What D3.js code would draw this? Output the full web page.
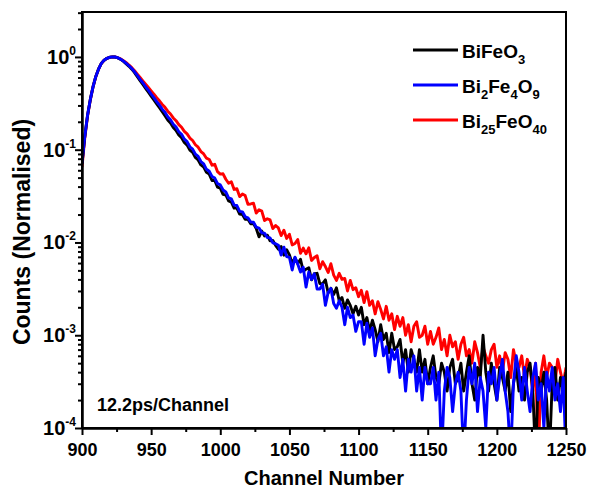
<!DOCTYPE html>
<html>
<head>
<meta charset="utf-8">
<script src="https://cdn.jsdelivr.net/npm/d3@7"></script>
<style>
  body { margin: 0; background: #fff; }
  svg text { font-family: "Liberation Sans", Arial, sans-serif; font-weight: bold; fill: #000; }
</style>
</head>
<body>
<svg id="chart"></svg>
<script>
const width = 590, height = 488;
const plotLeft = 82, plotRight = 566, plotTop = 12, plotBottom = 428;

// channel grid (every 2nd channel)
const channels = d3.range(900, 1251, 2);

// raw counts
const countsBiFeO3 = [
  1416, 2760, 4690, 6930, 9570, 12330, 14830, 17020, 18450, 19320, 19820, 20000, 19940, 19500, 18800,
  17900, 16850, 15850, 14750, 13560, 12240, 11110, 10080, 9150, 8320, 7560, 6860, 6250, 5680, 5150,
  4650, 4180, 3870, 3470, 3230, 2880, 2690, 2390, 2240, 1980, 1870, 1650, 1550, 1370, 1300, 1140,
  1090, 930, 930, 790, 770, 660, 650, 560, 545, 470, 470, 405, 400, 355, 355, 318, 320, 282, 230, 265,
  235, 240, 208, 210, 186,
  169, 181, 146, 167, 147, 119, 136, 118, 132, 98, 103, 107, 79, 92, 93, 72, 72, 79, 57, 64,
  55, 65, 47, 51, 39, 48, 42, 34, 41, 33,
  40, 26, 31, 22, 29, 23, 17, 26, 18, 21, 13, 21, 14, 15, 18, 10, 14, 8, 14, 11, 8, 14, 8, 11, 6,
  9, 12, 7, 6, 10, 8, 5, 9, 11, 6, 7, 10, 5, 8, 12, 6, 4, 9, 7, 20, 8, 5, 10, 6, 4,
  9, 7, 5, 8, 3, 6, 9, 5, 7, 4, 8, 10, 5, 1, 7, 5, 8, 4, 1, 6, 9, 4, 7, 5, 8
];
const countsBi2Fe4O9 = [
  1416, 2760, 4688, 6934, 9572, 12332, 14826, 17022, 18452, 19320, 19816, 20000, 19960, 19544, 18880,
  18032, 17022, 16070, 14998, 13836, 12620, 11480, 10530, 9540, 8760, 7930, 7290, 6600, 6070, 5480,
  5060, 4540, 4210, 3770, 3510, 3120, 2930, 2600, 2440, 2150, 2030, 1790, 1690, 1490, 1410, 1230,
  1170, 1030, 990, 860, 835, 735, 700, 605, 590, 505, 500, 432, 428, 378, 368, 332, 330, 292, 286, 254,
  252, 226, 224, 198, 194,
  187, 146, 178, 141, 138, 101, 139, 117, 96, 108, 66, 96, 80, 92, 63, 63, 71, 42, 58, 64,
  44, 39, 47, 40, 26, 40, 31, 33, 22, 28,
  28, 16, 27, 19, 24, 12, 18, 21, 12, 15, 8, 14, 11, 14, 7, 11, 5, 11, 8, 12, 5, 9, 4, 9, 6,
  6, 9, 4, 8, 1, 5, 9, 7, 3, 6, 8, 5, 1, 4, 9, 6, 10, 3, 7, 5, 2, 8, 6, 9, 4,
  7, 11, 5, 3, 1, 6, 12, 8, 4, 9, 5, 3, 7, 10, 4, 6, 2, 8, 5, 9, 4, 6, 3, 7, 1
];
const countsBi25FeO40 = [
  1300, 2650, 4600, 6880, 9540, 12300, 14800, 17000, 18440, 19310, 19810, 20000, 19980, 19544, 19012,
  18240, 17340, 16370, 15340, 14220, 13060, 12000, 11040, 10160, 9354, 8610, 7950, 7270, 6740, 6150,
  5720, 5200, 4850, 4400, 4110, 3730, 3490, 3150, 2960, 2670, 2510, 2260, 2130, 1910, 1800, 1620,
  1570, 1360, 1390, 1160, 1090, 1100, 960, 870, 900, 745, 760, 625, 665, 640, 515, 520, 530, 415, 450, 435,
  345, 360, 350, 282, 305,
  287, 237, 271, 221, 245, 188, 195, 215, 153, 174, 151, 175, 128, 138, 144, 104, 124, 110, 95, 118,
  89, 78, 93, 80, 82, 60, 78, 62, 65, 52,
  61, 45, 59, 42, 47, 34, 46, 38, 30, 41, 29, 34, 23, 32, 25, 31, 20, 26, 17, 25, 28, 19, 20, 25, 16,
  22, 16, 19, 24, 14, 18, 12, 20, 15, 17, 11, 16, 19, 12, 14, 10, 17, 13, 9, 15, 12, 10, 14, 16, 9,
  12, 8, 13, 11, 7, 14, 10, 9, 12, 7, 11, 9, 5, 10, 1, 8, 12, 7, 10, 9, 6, 11, 8, 6, 9
];

const xTicks = d3.range(900, 1251, 50);
const xMinorTicks = d3.range(925, 1250, 50);
const yExponents = [-4, -3, -2, -1, 0];

// draw order: red, black, blue on top
const series = [
  { key: "Bi25FeO40", counts: countsBi25FeO40, color: "#ff0000" },
  { key: "BiFeO3", counts: countsBiFeO3, color: "#000000" },
  { key: "Bi2Fe4O9", counts: countsBi2Fe4O9, color: "#0000ff" }
];
// legend entries: [main, sub, main, sub, ...]
const legendItems = [
  { color: "#000000", parts: ["BiFeO", "3"] },
  { color: "#0000ff", parts: ["Bi", "2", "Fe", "4", "O", "9"] },
  { color: "#ff0000", parts: ["Bi", "25", "FeO", "40"] }
];

const svg = d3.select("#chart").attr("width", width).attr("height", height);

const x = d3.scaleLinear().domain([900, 1250]).range([plotLeft, plotRight]);
const y = d3.scaleLog().domain([1e-4, 3.05]).range([plotBottom, plotTop]);

svg.append("clipPath").attr("id", "plot-clip")
  .append("rect")
  .attr("x", plotLeft).attr("y", plotTop)
  .attr("width", plotRight - plotLeft).attr("height", plotBottom - plotTop);

// lines
const line = d3.line()
  .x(d => x(d[0]))
  .y(d => y(d[1]));

series.forEach(s => {
  const peak = d3.max(s.counts);
  const pts = channels.map((c, i) => [c, s.counts[i] / peak]);
  svg.append("path")
    .datum(pts)
    .attr("clip-path", "url(#plot-clip)")
    .attr("fill", "none")
    .attr("stroke", s.color)
    .attr("stroke-width", 2.9)
    .attr("stroke-linejoin", "round")
    .attr("d", line);
});

// x axis
const xAxis = svg.append("g")
  .attr("transform", `translate(0,${plotBottom})`)
  .call(d3.axisBottom(x).tickValues(xTicks).tickFormat(d3.format("d"))
    .tickSize(7).tickSizeOuter(0).tickPadding(8));
xAxis.selectAll("text").style("font-size", "18px");
svg.append("g")
  .attr("transform", `translate(0,${plotBottom})`)
  .call(d3.axisBottom(x).tickValues(xMinorTicks).tickSize(4).tickSizeOuter(0).tickFormat(""));

// y axis
const yMinor = [];
yExponents.forEach(k => {
  for (let m = 2; m <= 9; m++) {
    const v = m * Math.pow(10, k);
    if (v <= 3.05) yMinor.push(v);
  }
});
svg.append("g")
  .attr("transform", `translate(${plotLeft},0)`)
  .call(d3.axisLeft(y).tickValues(yExponents.map(k => Math.pow(10, k))).tickSize(7).tickSizeOuter(0).tickFormat(""));
svg.append("g")
  .attr("transform", `translate(${plotLeft},0)`)
  .call(d3.axisLeft(y).tickValues(yMinor).tickSize(4).tickSizeOuter(0).tickFormat(""));

svg.selectAll(".domain").attr("stroke-width", 2);
svg.selectAll(".tick line").attr("stroke-width", 2);

yExponents.forEach(k => {
  const t = svg.append("text")
    .attr("x", 76)
    .attr("y", y(Math.pow(10, k)) + 7)
    .attr("text-anchor", "end")
    .style("font-size", "20px");
  t.append("tspan").text("10");
  t.append("tspan").attr("dy", -9).style("font-size", "12px").text(String(k));
});

// frame
svg.append("rect")
  .attr("x", plotLeft).attr("y", plotTop)
  .attr("width", plotRight - plotLeft).attr("height", plotBottom - plotTop)
  .attr("fill", "none")
  .attr("stroke", "#000")
  .attr("stroke-width", 2);

// titles
svg.append("text")
  .attr("text-anchor", "middle")
  .attr("transform", `translate(30,${(plotTop + plotBottom) / 2 + 12}) rotate(-90)`)
  .style("font-size", "23px")
  .text("Counts (Normalised)");

svg.append("text")
  .attr("x", (plotLeft + plotRight) / 2)
  .attr("y", 485)
  .attr("text-anchor", "middle")
  .style("font-size", "20px")
  .text("Channel Number");

svg.append("text")
  .attr("x", 97)
  .attr("y", 411)
  .style("font-size", "18px")
  .text("12.2ps/Channel");

// legend
legendItems.forEach((item, i) => {
  const ly = 50 + i * 35;
  svg.append("line")
    .attr("x1", 413).attr("x2", 458)
    .attr("y1", ly).attr("y2", ly)
    .attr("stroke", item.color)
    .attr("stroke-width", 2.9);
  const t = svg.append("text")
    .attr("x", 462)
    .attr("y", ly + 8)
    .style("font-size", "19px");
  item.parts.forEach((p, j) => {
    if (j % 2 === 0) {
      t.append("tspan").attr("dy", j === 0 ? 0 : -6).style("font-size", "19px").text(p);
    } else {
      t.append("tspan").attr("dy", 6).style("font-size", "13px").text(p);
    }
  });
});
</script>
</body>
</html>
